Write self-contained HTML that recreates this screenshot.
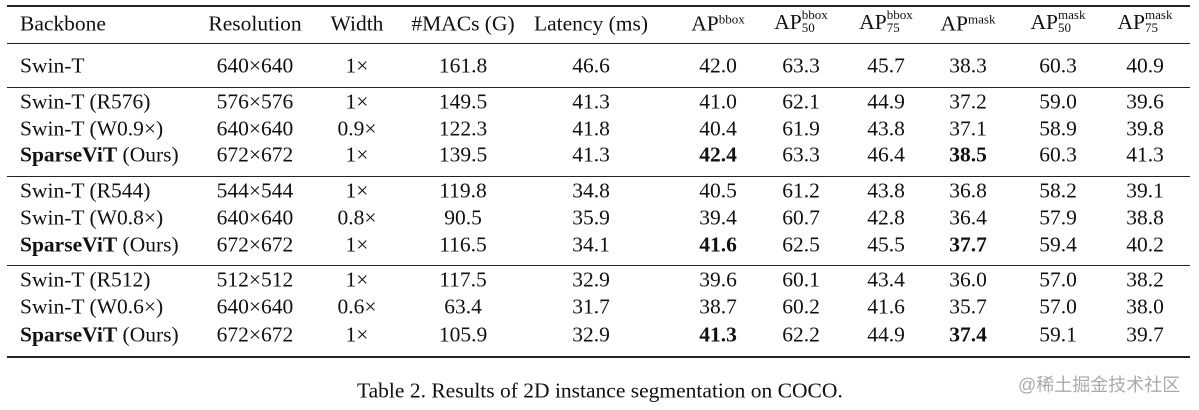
<!DOCTYPE html>
<html><head><meta charset="utf-8"><style>
body{margin:0;background:#fff;width:1199px;height:410px;overflow:hidden;position:relative;font-family:"Liberation Serif",serif;color:#111}
.c{position:absolute;font-size:21.5px;white-space:nowrap;transform:translate(-50%,-50%);line-height:1}
.l{transform:translate(0,-50%)}
.r{position:absolute;left:7px;width:1183px;background:#222}
.s{display:inline-block;vertical-align:middle;font-size:13px;line-height:13px;text-align:left;position:relative;top:-3px}
.s span{display:block}
.b{font-weight:bold}
</style></head><body>
<div class="r" style="top:5px;height:2px"></div>
<div class="r" style="top:43px;height:1px"></div>
<div class="r" style="top:87px;height:1px"></div>
<div class="r" style="top:176px;height:1px"></div>
<div class="r" style="top:265px;height:1px"></div>
<div class="r" style="top:356px;height:2px"></div>
<div class="c l" style="left:357px;top:391px;font-size:21.5px">Table 2. Results of 2D instance segmentation on COCO.</div>
<div class="c l" style="left:1018px;top:385px;font-size:18px;color:#aaa;font-family:'Liberation Sans','Noto Sans CJK SC',sans-serif">@稀土掘金技术社区</div>
<div id="t"></div>
<script>
const colX=[20,255,357,463,591,718,801,886,968,1058,1145];
const headers=['Backbone','Resolution','Width','#MACs (G)','Latency (ms)','AP<span class="s" style="top:-7px"><span>bbox</span></span>','AP<span class="s"><span>bbox</span><span>50</span></span>','AP<span class="s"><span>bbox</span><span>75</span></span>','AP<span class="s" style="top:-7px"><span>mask</span></span>','AP<span class="s"><span>mask</span><span>50</span></span>','AP<span class="s"><span>mask</span><span>75</span></span>'];
const rowY=[66,102,129,155,191,218,245,280,307,335];
const rows=[
['Swin-T','640×640','1×','161.8','46.6','42.0','63.3','45.7','38.3','60.3','40.9'],
['Swin-T (R576)','576×576','1×','149.5','41.3','41.0','62.1','44.9','37.2','59.0','39.6'],
['Swin-T (W0.9×)','640×640','0.9×','122.3','41.8','40.4','61.9','43.8','37.1','58.9','39.8'],
['<b>SparseViT</b> (Ours)','672×672','1×','139.5','41.3','<b>42.4</b>','63.3','46.4','<b>38.5</b>','60.3','41.3'],
['Swin-T (R544)','544×544','1×','119.8','34.8','40.5','61.2','43.8','36.8','58.2','39.1'],
['Swin-T (W0.8×)','640×640','0.8×','90.5','35.9','39.4','60.7','42.8','36.4','57.9','38.8'],
['<b>SparseViT</b> (Ours)','672×672','1×','116.5','34.1','<b>41.6</b>','62.5','45.5','<b>37.7</b>','59.4','40.2'],
['Swin-T (R512)','512×512','1×','117.5','32.9','39.6','60.1','43.4','36.0','57.0','38.2'],
['Swin-T (W0.6×)','640×640','0.6×','63.4','31.7','38.7','60.2','41.6','35.7','57.0','38.0'],
['<b>SparseViT</b> (Ours)','672×672','1×','105.9','32.9','<b>41.3</b>','62.2','44.9','<b>37.4</b>','59.1','39.7']];
const t=document.getElementById('t');
function cell(html,x,y,left,name){
  const d=document.createElement('div');
  d.className='c'+(left?' l':'');
  d.style.left=x+'px';d.style.top=y+'px';d.innerHTML=html;
  
  
  t.appendChild(d);
}
headers.forEach((h,i)=>cell(h,colX[i],24,i==0,'header-'+i));
rows.forEach((r,ri)=>r.forEach((v,i)=>cell(v,colX[i],rowY[ri],i==0,'cell-r'+ri+'-c'+i)));
</script>
</body></html>
